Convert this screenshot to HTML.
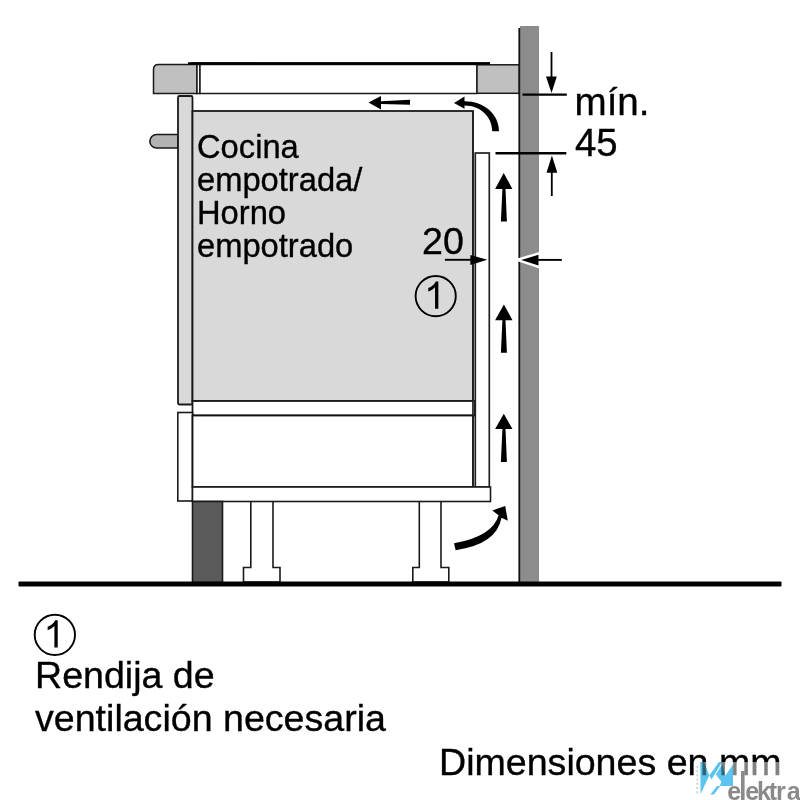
<!DOCTYPE html>
<html><head><meta charset="utf-8">
<style>
html,body{margin:0;padding:0;background:#fff;width:800px;height:800px;overflow:hidden}
svg{display:block}
#main{filter:grayscale(1)}
#wm{position:absolute;left:0;top:0}
text{font-family:"Liberation Sans",sans-serif;fill:#000;stroke:#000;stroke-width:0.35px}
</style></head>
<body>
<svg id="main" width="800" height="800" viewBox="0 0 800 800">
<rect x="0" y="0" width="800" height="800" fill="#fff"/>

<!-- wall -->
<rect x="520" y="26" width="19" height="558" fill="#8c8c8c"/>
<line x1="519.3" y1="28" x2="519.3" y2="583" stroke="#111" stroke-width="1.8"/>

<!-- countertop -->
<path d="M188 64.7 Q189 62.3 192 62.3 L490 62.3 L490 64.7 Z" fill="#000"/>
<path d="M153.5 93.5 L153.5 69.5 Q153.5 64.5 158.5 64.5 L197 64.5 L197 93.5 Z" fill="#c0c0c0" stroke="#1a1a1a" stroke-width="1.5"/>
<rect x="197" y="64.5" width="3" height="29" fill="#fff" stroke="#1a1a1a" stroke-width="1.5"/>
<rect x="200" y="64.5" width="277" height="29" fill="#fff" stroke="#1a1a1a" stroke-width="1.5"/>
<rect x="477" y="64.8" width="42" height="28.5" fill="#c0c0c0" stroke="#1a1a1a" stroke-width="1.5"/>
<rect x="188" y="62.3" width="302" height="2.4" fill="#000"/>

<!-- knob -->
<path d="M178 134.5 L156.6 134.5 A6.75 6.75 0 0 0 156.6 148 L178 148 Z" fill="#b3b3b3" stroke="#1a1a1a" stroke-width="1.6"/>

<!-- legs -->
<path d="M250.8 501.5 L250.8 567.5 L243.5 567.5 L243.5 582 L280 582 L280 567.5 L273 567.5 L273 501.5" fill="#fff" stroke="#1a1a1a" stroke-width="1.6"/>
<path d="M419.3 501.5 L419.3 567.5 L412.8 567.5 L412.8 582 L448.8 582 L448.8 567.5 L441 567.5 L441 501.5" fill="#fff" stroke="#1a1a1a" stroke-width="1.6"/>

<!-- upper side panel -->
<rect x="178" y="96" width="14.5" height="308.5" rx="1.5" fill="#d9d9d9" stroke="#1a1a1a" stroke-width="1.8"/>

<!-- oven front -->
<rect x="192.5" y="111" width="280.5" height="290" fill="#d9d9d9" stroke="#1a1a1a" stroke-width="1.8"/>

<!-- strip -->
<rect x="192.5" y="401" width="282" height="14.5" fill="#fff" stroke="#1a1a1a" stroke-width="1.8"/>

<!-- lower side panel -->
<rect x="177.8" y="412.5" width="14.7" height="88.5" fill="#fff" stroke="#1a1a1a" stroke-width="1.6"/>

<!-- drawer -->
<rect x="192.5" y="415.5" width="280.5" height="71.5" fill="#fff" stroke="#111" stroke-width="1.8"/>

<!-- right panel -->
<rect x="475.3" y="153" width="14" height="334" fill="#fff" stroke="#222" stroke-width="1.7"/>
<line x1="472.9" y1="111" x2="472.9" y2="487" stroke="#222" stroke-width="1.6"/>

<!-- bottom strip -->
<rect x="192.5" y="487" width="298" height="14.5" fill="#fff" stroke="#1a1a1a" stroke-width="1.6"/>

<!-- plinth -->
<rect x="192.5" y="501.5" width="30" height="81" fill="#5a5a5a" stroke="#1a1a1a" stroke-width="1.6"/>

<!-- floor -->
<rect x="18.5" y="581.5" width="763" height="5" rx="1" fill="#000"/>

<!-- arrows -->
<path d="M368.5 102.5 L381 96 L381 101.2 L410 99.8 L410 104.8 L381 104 L381 109.5 Z" fill="#000"/>
<path d="M454 103.1 L464.5 96.4 L464.5 101.25 C484.17 101.25 499 114.15 499 131.25 L492.25 131.25 C492.25 116.52 480.32 105.4 464.5 105.4 L464.5 108.75 Z" fill="#000"/>
<path d="M505.2 506 L492.3 510.4 L498.6 515.2 Q492.7 536.2 454 543.3 L455.7 550.2 Q496.7 544.2 501.5 517.8 L507.8 520.8 Z" fill="#000"/>

<g fill="#000">
<path d="M503.7 172.9 L495.1 188.9 L502.4 188.9 L500.9 221.6 L506.9 221.6 L505.5 188.9 L512.4 188.9 Z"/>
<path d="M503.9 304.4 L495.1 320.2 L502.4 320.2 L500.9 352.8 L506.9 352.8 L505.5 320.2 L512.5 320.2 Z"/>
<path d="M503.8 413.8 L495.1 429.0 L502.4 429.0 L500.9 462 L506.9 462 L505.5 429.0 L512.5 429.0 Z"/>
</g>

<!-- dimension min 45 -->
<line x1="522.5" y1="94.6" x2="566.8" y2="94.6" stroke="#000" stroke-width="2.4"/>
<line x1="551.5" y1="52" x2="551.5" y2="80" stroke="#000" stroke-width="1.8"/>
<path d="M546 76.5 L556.8 76.5 L551.5 93 Z" fill="#000"/>
<line x1="495.5" y1="153.2" x2="566.3" y2="153.2" stroke="#000" stroke-width="2.4"/>
<line x1="551.8" y1="170" x2="551.8" y2="196" stroke="#000" stroke-width="1.8"/>
<path d="M546.5 172.7 L557.3 172.7 L551.9 155.5 Z" fill="#000"/>

<!-- dimension 20 -->
<line x1="444.9" y1="259.8" x2="472" y2="259.8" stroke="#000" stroke-width="1.9"/>
<path d="M470.4 254.9 L487.3 259.8 L470.4 265 Z" fill="#000"/>
<path d="M521.3 259.9 L538.5 254.8 L538.5 265.6 Z" fill="#000" stroke="#fff" stroke-width="5" stroke-linejoin="miter" paint-order="stroke"/>
<line x1="536" y1="259.9" x2="561.8" y2="259.9" stroke="#000" stroke-width="1.9"/>

<!-- circle 1 in diagram -->
<circle cx="435.7" cy="296.1" r="20.1" fill="none" stroke="#000" stroke-width="1.9"/>
<path transform="translate(435.5 296.1)" d="M-0.45 12.75 L2.85 12.75 L2.85 -14.55 L0.3 -14.55 C-1.2 -11.5 -4 -9.3 -7.2 -8 L-7.2 -4.6 C-4.5 -5.6 -2.2 -7 -0.45 -8.8 Z" fill="#000"/>

<!-- texts -->
<text font-size="32.7" x="197" y="157.5">Cocina</text>
<text font-size="32.7" x="197" y="190.5">empotrada/</text>
<text font-size="32.7" x="197" y="223.5">Horno</text>
<text font-size="32.7" x="197" y="256.5">empotrado</text>

<text font-size="37.6" x="422" y="253.7">20</text>
<text font-size="38.6" x="574.5" y="114.6">mín.</text>
<text font-size="38.4" x="575" y="156.3">45</text>

<circle cx="54.85" cy="634.85" r="20.15" fill="none" stroke="#000" stroke-width="1.9"/>
<path transform="translate(54.85 634.85)" d="M-0.45 12.75 L2.85 12.75 L2.85 -14.55 L0.3 -14.55 C-1.2 -11.5 -4 -9.3 -7.2 -8 L-7.2 -4.6 C-4.5 -5.6 -2.2 -7 -0.45 -8.8 Z" fill="#000"/>
<text font-size="37.6" x="35" y="688.4">Rendija de</text>
<text font-size="37.6" x="35" y="730.5">ventilación necesaria</text>
<text font-size="37.6" x="439" y="775">Dimensiones en mm</text>

</svg>
<svg id="wm" width="800" height="800" viewBox="0 0 800 800">
<rect x="700" y="762" width="100" height="38" fill="#fff" opacity="0.5"/>
<line x1="697.3" y1="766" x2="697.3" y2="795" stroke="#aaa" stroke-width="1.6" stroke-dasharray="2 2.2" opacity="0.6"/>
<g fill="#5cc4ee" style="mix-blend-mode:multiply">
<path d="M700.3 762 L704 762 L709.3 775.5 L700.6 794 Z"/>
<path d="M709.3 775.5 L718.8 762 L722.3 762 L711.5 779.5 Z"/>
<path d="M715.8 774.5 L722.3 764 L725 776 L733 764.5 L733 786 L719.8 786 L721.3 781.5 Z"/>
<path d="M710.3 794.5 L713.8 794.5 L720.3 786 L717 786 Z"/>
</g>
<rect x="741" y="771" width="3.6" height="29" fill="#8a8a8a"/>
<text x="727.3 745.3 757 768.8 776 786.8" y="800" font-size="25" font-weight="bold" style="font-family:'Liberation Sans',sans-serif;fill:#8a8a8a;stroke:none">eektra</text>
</svg>
</body></html>
